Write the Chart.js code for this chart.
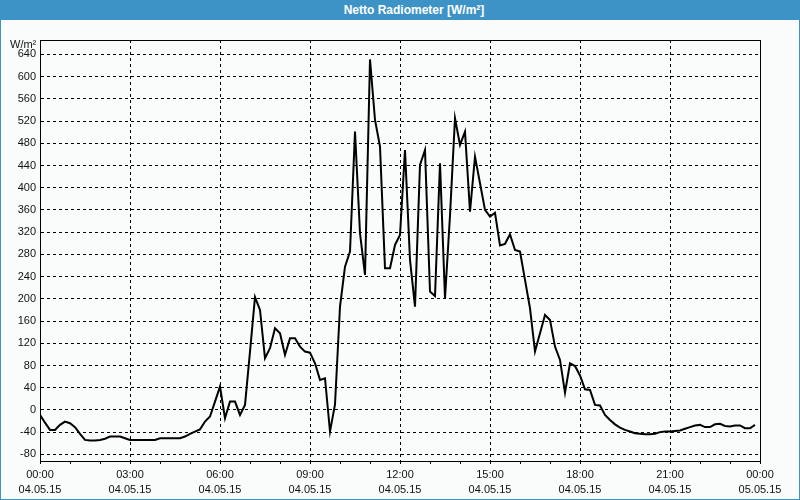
<!DOCTYPE html>
<html>
<head>
<meta charset="utf-8">
<script src="https://cdn.jsdelivr.net/npm/chart.js@4/dist/chart.umd.min.js"></script>
<style>
html,body{margin:0;padding:0;background:#fafcfb;}
#wrap{position:relative;width:800px;height:500px;overflow:hidden;background:#fafcfb;}
#title{position:absolute;left:0;top:0;width:800px;height:20px;background:#3d93c5;color:#fff;
  font:bold 12px "Liberation Sans",Arial,sans-serif;line-height:20px;text-align:center;text-indent:28px;}
#frame{position:absolute;left:0;top:0;width:800px;height:500px;box-sizing:border-box;border:1px solid #3d93c5;pointer-events:none;}
#unit{position:absolute;left:10px;top:38px;font:11px "Liberation Sans",Arial,sans-serif;color:#111;}
canvas{position:absolute;left:0;top:0;}
</style>
</head>
<body>
<div id="wrap">
  <canvas id="c" width="800" height="500"></canvas>
  <div id="title">Netto Radiometer [W/m²]</div>
  <div id="unit">W/m²</div>
  <div id="frame"></div>
</div>
<script>
// Time of each sample (04.05.15, 10-minute values)
const times = [
 '00:00','00:10','00:20','00:30','00:40','00:50','01:00','01:10','01:20','01:30','01:40','01:50',
 '02:00','02:10','02:20','02:30','02:40','02:50','03:00','03:10','03:20','03:30','03:40','03:50',
 '04:00','04:10','04:20','04:30','04:40','04:50','05:00','05:10','05:20','05:30','05:40','05:50',
 '06:00','06:10','06:20','06:30','06:40','06:50','07:00','07:10','07:20','07:30','07:40','07:50',
 '08:00','08:10','08:20','08:30','08:40','08:50','09:00','09:10','09:20','09:30','09:40','09:50',
 '10:00','10:10','10:20','10:30','10:40','10:50','11:00','11:10','11:20','11:30','11:40','11:50',
 '12:00','12:10','12:20','12:30','12:40','12:50','13:00','13:10','13:20','13:30','13:40','13:50',
 '14:00','14:10','14:20','14:30','14:40','14:50','15:00','15:10','15:20','15:30','15:40','15:50',
 '16:00','16:10','16:20','16:30','16:40','16:50','17:00','17:10','17:20','17:30','17:40','17:50',
 '18:00','18:10','18:20','18:30','18:40','18:50','19:00','19:10','19:20','19:30','19:40','19:50',
 '20:00','20:10','20:20','20:30','20:40','20:50','21:00','21:10','21:20','21:30','21:40','21:50',
 '22:00','22:10','22:20','22:30','22:40','22:50','23:00','23:10','23:20','23:30','23:40','23:50'
];
// Netto radiation, W/m²
const netRadiation = [
 -9,-23,-36,-36,-27,-21,-24,-31,-43,-54,-55,-55,
 -54,-52,-48,-48,-48,-51,-54,-54,-54,-54,-54,-54,
 -51,-51,-51,-51,-51,-48,-43,-39,-35,-21,-12,15,
 42,-15,15,15,-9,9,105,203,180,93,111,147,
 138,99,129,129,114,105,103,84,54,57,-39,10,
 186,258,285,501,318,243,631,522,474,255,255,297,
 315,468,270,186,441,468,213,205,444,201,350,525,
 477,501,357,456,408,360,348,355,296,299,316,288,
 285,234,183,105,138,171,162,114,90,31,84,79,
 62,37,36,9,8,-9,-18,-26,-32,-36,-39,-42,
 -43,-44,-44,-43,-40,-39,-39,-38,-37,-34,-31,-28,
 -27,-31,-31,-26,-25,-29,-30,-28,-28,-33,-33,-27
];
// Axis labels
const xTickTimes = ['00:00','03:00','06:00','09:00','12:00','15:00','18:00','21:00','00:00'];
const xTickDates = ['04.05.15','04.05.15','04.05.15','04.05.15','04.05.15','04.05.15','04.05.15','04.05.15','05.05.15'];
const yMin = -92, yMax = 666, yStep = 40;
const xMin = 0, xMax = 1440, xMinor = 60, xMajor = 180;

const toMinutes = s => { const [h, m] = s.split(':').map(Number); return h * 60 + m; };
const points = times.map((t, i) => ({ x: toMinutes(t), y: netRadiation[i] }));

const fontTick = { family: '"Liberation Sans", Arial, sans-serif', size: 11, lineHeight: 1.4 };

const framePlugin = {
  id: 'frame',
  afterDraw(chart) {
    const { ctx, chartArea: a } = chart;
    ctx.save();
    ctx.strokeStyle = '#000';
    ctx.lineWidth = 1;
    ctx.strokeRect(Math.round(a.left) + 0.5, Math.round(a.top) + 0.5,
                   Math.round(a.right - a.left) - 1 + 1, Math.round(a.bottom - a.top));
    ctx.restore();
  }
};

new Chart(document.getElementById('c'), {
  type: 'line',
  data: {
    datasets: [{
      data: points,
      borderColor: '#000',
      borderWidth: 2,
      pointRadius: 0,
      tension: 0,
      fill: false
    }]
  },
  options: {
    responsive: false,
    animation: false,
    parsing: true,
    layout: { padding: { left: 0, right: 40, top: 40, bottom: 0 } },
    plugins: { legend: { display: false }, tooltip: { enabled: false }, title: { display: false } },
    scales: {
      x: {
        type: 'linear',
        min: xMin, max: xMax,
        afterFit: s => { s.height = 39; },
        ticks: {
          stepSize: xMinor,
          autoSkip: false,
          maxRotation: 0,
          includeBounds: false,
          padding: 3,
          color: '#111',
          font: fontTick,
          callback: v => (v % xMajor === 0) ? [xTickTimes[v / xMajor], xTickDates[v / xMajor]] : ''
        },
        grid: {
          color: c => (c.tick && c.tick.value % xMajor === 0 && c.tick.value > xMin && c.tick.value < xMax) ? '#000' : 'rgba(0,0,0,0)',
          lineWidth: 1,
          drawTicks: true,
          tickLength: 3,
          tickColor: '#000',
          tickWidth: 1
        },
        border: { display: true, color: '#000', width: 1, dash: [3, 3] }
      },
      y: {
        type: 'linear',
        min: yMin, max: yMax,
        afterFit: s => { s.width = 40; },
        ticks: {
          stepSize: yStep,
          includeBounds: false,
          padding: 4,
          color: '#111',
          font: fontTick
        },
        grid: {
          color: '#000',
          lineWidth: 1,
          drawTicks: false
        },
        border: { display: true, color: '#000', width: 1, dash: [3, 3] }
      }
    }
  },
  plugins: [framePlugin]
});
</script>
</body>
</html>
